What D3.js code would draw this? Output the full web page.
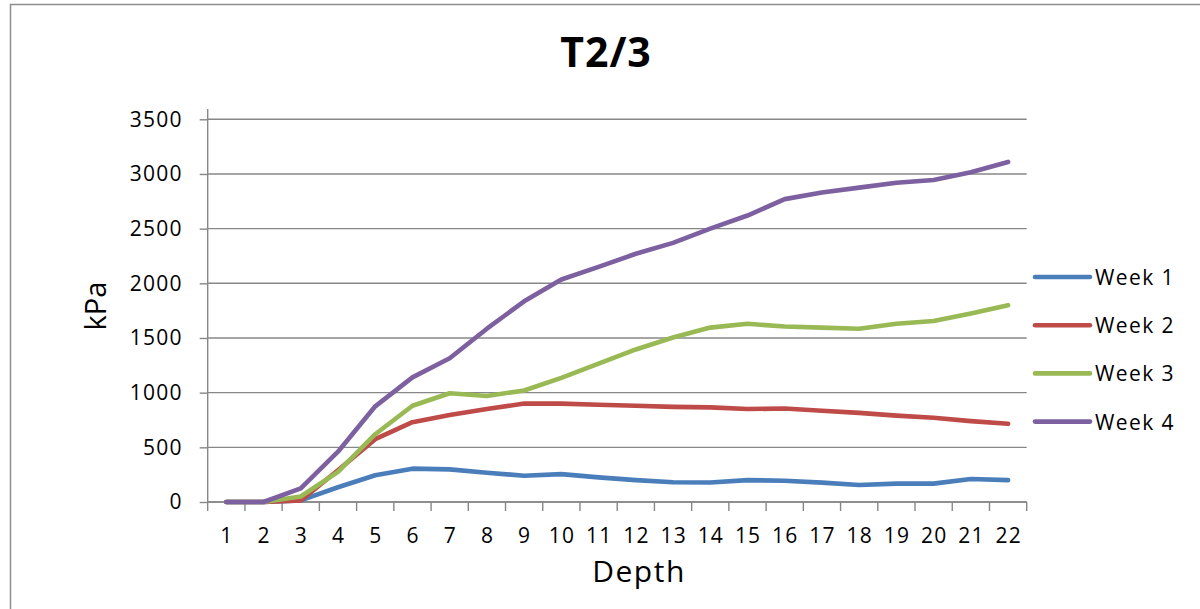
<!DOCTYPE html>
<html>
<head>
<meta charset="utf-8">
<script src="https://cdn.jsdelivr.net/npm/d3@7"></script>
<style>
  html, body { margin: 0; padding: 0; background: #fff; }
  svg { display: block; }
  text { font-family: "Open Sans", "Liberation Sans", sans-serif; fill: #000; }
</style>
</head>
<body>
<svg id="chart" width="1200" height="609"></svg>
<script>
// Depth categories along the x axis
const depths = ["1","2","3","4","5","6","7","8","9","10","11","12","13","14","15","16","17","18","19","20","21","22"];

// kPa readings per week
const week1 = [0, 0, 15, 135, 245, 305, 298, 268, 240, 255, 225, 200, 180, 178, 200, 195, 177, 155, 168, 168, 210, 200];
const week2 = [0, 0, 15, 290, 575, 730, 795, 850, 900, 900, 890, 880, 870, 865, 850, 855, 835, 815, 790, 770, 740, 715];
const week3 = [0, 0, 50, 275, 620, 880, 995, 970, 1020, 1135, 1265, 1395, 1505, 1595, 1630, 1605, 1595, 1585, 1630, 1655, 1725, 1800];
const week4 = [0, 0, 125, 460, 875, 1140, 1314, 1585, 1835, 2035, 2150, 2270, 2370, 2500, 2620, 2770, 2830, 2875, 2920, 2945, 3015, 3110];

const seriesNames = ["Week 1", "Week 2", "Week 3", "Week 4"];
const seriesColors = ["#4a7ebb", "#be4b48", "#98b954", "#7d60a0"];
const yTicks = [0, 500, 1000, 1500, 2000, 2500, 3000, 3500];

const series = [week1, week2, week3, week4].map((values, i) => ({
  name: seriesNames[i], color: seriesColors[i], values
}));

const svg = d3.select("#chart");
const gridColor = "#878787";

// outer chart frame
svg.append("rect")
  .attr("x", 10.5).attr("y", 4.5)
  .attr("width", 1200).attr("height", 620)
  .attr("fill", "none").attr("stroke", "#8e8e8e").attr("stroke-width", 1.5);

const plot = { left: 207.7, right: 1026.7, top: 119.3, bottom: 502 };

const x = d3.scaleBand().domain(depths).range([plot.left, plot.right]).padding(0);
const y = d3.scaleLinear().domain([0, 3500]).range([plot.bottom, plot.top]);

// horizontal gridlines
svg.append("g").selectAll("line").data(yTicks).join("line")
  .attr("x1", plot.left).attr("x2", plot.right)
  .attr("y1", d => y(d)).attr("y2", d => y(d))
  .attr("stroke", gridColor).attr("stroke-width", 1.4);

// y axis
const yAxis = d3.axisLeft(y).tickValues(yTicks).tickSize(8).tickPadding(17).tickFormat(d3.format("d"));
const gy = svg.append("g").attr("transform", `translate(${plot.left},0)`).call(yAxis);
gy.select(".domain").remove();
gy.append("line").attr("x1", 0).attr("x2", 0).attr("y1", 109).attr("y2", plot.bottom)
  .attr("stroke", gridColor).attr("stroke-width", 1.4);
gy.selectAll(".tick line").attr("stroke", gridColor).attr("stroke-width", 1.4);
gy.selectAll(".tick text")
  .attr("font-size", 21).attr("letter-spacing", 1.2)
  .attr("font-family", "Open Sans").attr("fill", "#000");

// x axis: ticks sit on the category boundaries
const boundaries = depths.map(d => x(d)).concat([plot.right]);
const gx = svg.append("g");
gx.append("line").attr("x1", plot.left).attr("x2", plot.right)
  .attr("y1", plot.bottom).attr("y2", plot.bottom)
  .attr("stroke", gridColor).attr("stroke-width", 1.4);
gx.selectAll("line.tk").data(boundaries).join("line").attr("class", "tk")
  .attr("x1", d => d).attr("x2", d => d)
  .attr("y1", plot.bottom).attr("y2", plot.bottom + 9)
  .attr("stroke", gridColor).attr("stroke-width", 1.4);
gx.selectAll("text").data(depths).join("text")
  .attr("x", d => x(d) + x.bandwidth() / 2 + 0.6)
  .attr("y", 543)
  .attr("text-anchor", "middle")
  .attr("font-size", 21).attr("letter-spacing", 1.2)
  .text(d => d);

// series lines
const line = d3.line()
  .x((d, i) => x(depths[i]) + x.bandwidth() / 2)
  .y(d => y(d));

svg.append("g").selectAll("path").data(series).join("path")
  .attr("d", s => line(s.values))
  .attr("fill", "none")
  .attr("stroke", s => s.color)
  .attr("stroke-width", 4.6)
  .attr("stroke-linejoin", "round")
  .attr("stroke-linecap", "round");

// title
svg.append("text")
  .attr("x", 606).attr("y", 67)
  .attr("text-anchor", "middle")
  .attr("font-size", 41).attr("font-weight", "bold").attr("letter-spacing", 1)
  .text("T2/3");

// axis titles
svg.append("text")
  .attr("transform", "translate(106,306) rotate(-90)")
  .attr("text-anchor", "middle")
  .attr("font-size", 29)
  .text("kPa");

svg.append("text")
  .attr("x", 639).attr("y", 582)
  .attr("text-anchor", "middle")
  .attr("font-size", 30).attr("letter-spacing", 1.5)
  .text("Depth");

// legend
const legend = svg.append("g").selectAll("g").data(series).join("g")
  .attr("transform", (d, i) => `translate(1035,${277 + i * 48.2})`);
legend.append("line")
  .attr("x1", 0).attr("x2", 55).attr("y1", 0).attr("y2", 0)
  .attr("stroke", d => d.color).attr("stroke-width", 4.6).attr("stroke-linecap", "round");
legend.append("text")
  .attr("x", 60).attr("y", 8)
  .attr("font-size", 21).attr("letter-spacing", 1.4)
  .text(d => d.name);
</script>
</body>
</html>
